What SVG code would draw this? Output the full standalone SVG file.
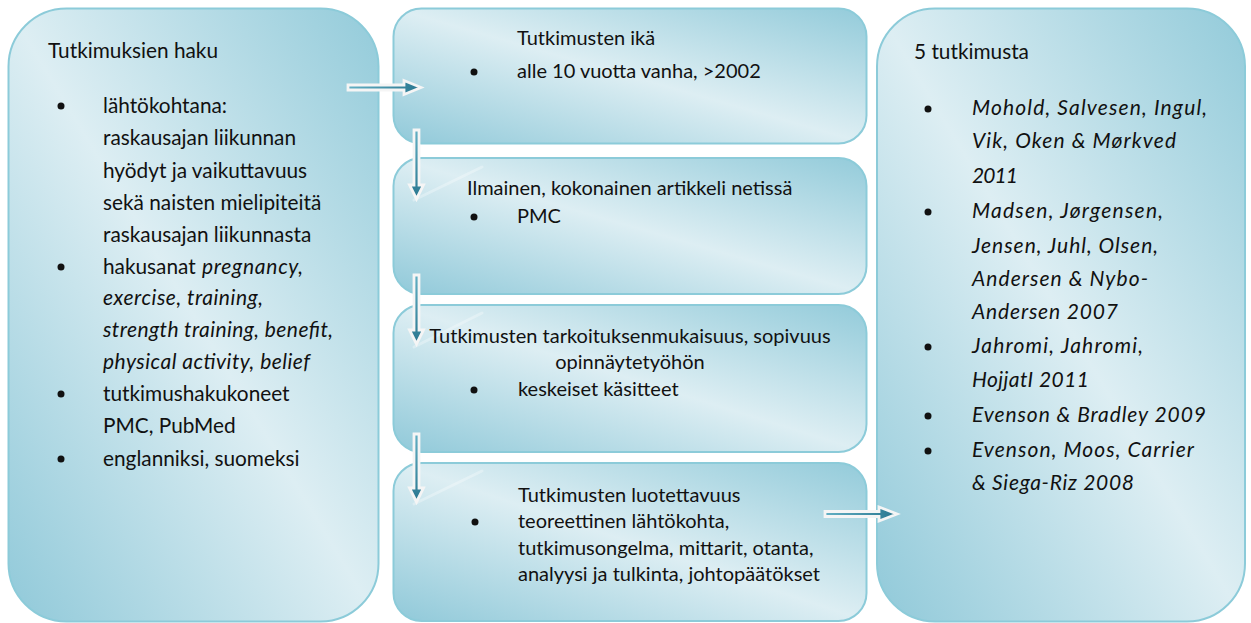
<svg xmlns="http://www.w3.org/2000/svg" width="1251" height="623" viewBox="0 0 1251 623">
<defs>
<linearGradient id="boxg" x1="0" y1="1" x2="1" y2="0">
<stop offset="0" stop-color="#90c9d9"/>
<stop offset="0.5" stop-color="#ddeef3"/>
<stop offset="1" stop-color="#93cbda"/>
</linearGradient>
<linearGradient id="arrH" x1="0" y1="0" x2="1" y2="0">
<stop offset="0" stop-color="#62afc3"/>
<stop offset="1" stop-color="#2a7790"/>
</linearGradient>
<linearGradient id="arrV" x1="0" y1="0" x2="0" y2="1">
<stop offset="0" stop-color="#62afc3"/>
<stop offset="1" stop-color="#2a7790"/>
</linearGradient>
</defs>
<style>
.box{fill:url(#boxg);stroke:#8ccbd9;stroke-width:2}
.t{font-family:Lato,"Liberation Sans",sans-serif;font-size:20px;fill:#111}
.big{font-size:20.8px}
.i{font-style:italic;font-size:21px}
.dot{fill:#111}
.gl{stroke:#ffffff;stroke-opacity:0.3;stroke-width:3;stroke-linecap:round}
.ah{fill:url(#arrH);stroke:#f5f5f5;stroke-width:2.8;stroke-linejoin:miter}
.av{fill:url(#arrV);stroke:#f5f5f5;stroke-width:2.8;stroke-linejoin:miter}
</style>
<rect width="1251" height="623" fill="#ffffff"/>

<g id="node-haku">
<rect class="box" x="8.5" y="8.5" width="370" height="613" rx="58"/>
<text class="t big" x="48" y="58">Tutkimuksien haku</text>
<circle class="dot" cx="61" cy="106" r="3.5"/>
<text class="t big" x="103" y="113">lähtökohtana:</text>
<text class="t big" x="103" y="145">raskausajan liikunnan</text>
<text class="t big" x="103" y="178">hyödyt ja vaikuttavuus</text>
<text class="t big" x="103" y="210">sekä naisten mielipiteitä</text>
<text class="t big" x="103" y="242">raskausajan liikunnasta</text>
<circle class="dot" cx="61" cy="267" r="3.5"/>
<text class="t big" x="103" y="274">hakusanat</text>
<text class="t i" x="202" y="274" textLength="101" lengthAdjust="spacing">pregnancy,</text>
<text class="t i" x="103" y="305" textLength="160" lengthAdjust="spacing">exercise, training,</text>
<text class="t i" x="103" y="337" textLength="230" lengthAdjust="spacing">strength training, benefit,</text>
<text class="t i" x="103" y="369" textLength="207" lengthAdjust="spacing">physical activity, belief</text>
<circle class="dot" cx="61" cy="394" r="3.5"/>
<text class="t big" x="103" y="401">tutkimushakukoneet</text>
<text class="t big" x="103" y="433">PMC, PubMed</text>
<circle class="dot" cx="61" cy="459" r="3.5"/>
<text class="t big" x="103" y="466">englanniksi, suomeksi</text>
</g>

<g id="node-ika">
<rect class="box" x="393.5" y="8.5" width="473" height="135" rx="28"/>
<text class="t" x="517" y="45">Tutkimusten ikä</text>
<circle class="dot" cx="474" cy="72" r="3.5"/>
<text class="t" x="517" y="78">alle 10 vuotta vanha, &gt;2002</text>
</g>

<g id="node-ilmainen">
<rect class="box" x="393.5" y="158" width="473" height="136" rx="28"/>
<line class="gl" x1="414" y1="200" x2="482" y2="167"/>
<text class="t" x="467" y="195">Ilmainen, kokonainen artikkeli netissä</text>
<circle class="dot" cx="474" cy="217" r="3.5"/>
<text class="t" x="517" y="223">PMC</text>
</g>

<g id="node-tarkoitus">
<rect class="box" x="393.5" y="305" width="473" height="147" rx="28"/>
<line class="gl" x1="414" y1="347" x2="482" y2="313"/>
<text class="t" x="630" y="343" text-anchor="middle">Tutkimusten tarkoituksenmukaisuus, sopivuus</text>
<text class="t" x="630" y="369" text-anchor="middle">opinnäytetyöhön</text>
<circle class="dot" cx="474" cy="390" r="3.5"/>
<text class="t" x="518" y="396">keskeiset käsitteet</text>
</g>

<g id="node-luotettavuus">
<rect class="box" x="393.5" y="463" width="473" height="158" rx="28"/>
<line class="gl" x1="414" y1="504" x2="482" y2="471"/>
<text class="t" x="518" y="502">Tutkimusten luotettavuus</text>
<circle class="dot" cx="475" cy="522" r="3.5"/>
<text class="t" x="518" y="528">teoreettinen lähtökohta,</text>
<text class="t" x="518" y="555">tutkimusongelma, mittarit, otanta,</text>
<text class="t" x="518" y="581">analyysi ja tulkinta, johtopäätökset</text>
</g>

<g id="node-tulos">
<rect class="box" x="877" y="8.5" width="368" height="613" rx="58"/>
<text class="t big" x="914" y="59">5 tutkimusta</text>
<circle class="dot" cx="928" cy="109" r="3.5"/>
<text class="t i" x="972" y="115" textLength="235" lengthAdjust="spacing">Mohold, Salvesen, Ingul,</text>
<text class="t i" x="972" y="148" textLength="204" lengthAdjust="spacing">Vik, Oken &amp; Mørkved</text>
<text class="t i" x="972" y="183" textLength="46" lengthAdjust="spacing">2011</text>
<circle class="dot" cx="928" cy="212" r="3.5"/>
<text class="t i" x="972" y="218" textLength="191" lengthAdjust="spacing">Madsen, Jørgensen,</text>
<text class="t i" x="972" y="253" textLength="186" lengthAdjust="spacing">Jensen, Juhl, Olsen,</text>
<text class="t i" x="972" y="286" textLength="176" lengthAdjust="spacing">Andersen &amp; Nybo-</text>
<text class="t i" x="972" y="319" textLength="146" lengthAdjust="spacing">Andersen 2007</text>
<circle class="dot" cx="928" cy="347" r="3.5"/>
<text class="t i" x="972" y="353" textLength="171" lengthAdjust="spacing">Jahromi, Jahromi,</text>
<text class="t i" x="972" y="387" textLength="117" lengthAdjust="spacing">HojjatI 2011</text>
<circle class="dot" cx="928" cy="416" r="3.5"/>
<text class="t i" x="972" y="422" textLength="234" lengthAdjust="spacing">Evenson &amp; Bradley 2009</text>
<circle class="dot" cx="928" cy="451" r="3.5"/>
<text class="t i" x="972" y="457" textLength="222" lengthAdjust="spacing">Evenson, Moos, Carrier</text>
<text class="t i" x="972" y="490" textLength="162" lengthAdjust="spacing">&amp; Siega-Riz 2008</text>
</g>

<g id="connectors">
<path class="ah" d="M348 85 H404 V80.5 L421 87.5 L404 94.5 V90 H348 Z"/>
<path class="av" d="M414 130 H419 V185 H423.5 L416.5 199 L409.5 185 H414 Z"/>
<path class="av" d="M414 275 H419 V330 H423.5 L416.5 344 L409.5 330 H414 Z"/>
<path class="av" d="M414 434 H419 V488 H423.5 L416.5 502 L409.5 488 H414 Z"/>
<path class="ah" d="M825 511.5 H879 V507 L897 514 L879 521 V516.5 H825 Z"/>
</g>
</svg>
